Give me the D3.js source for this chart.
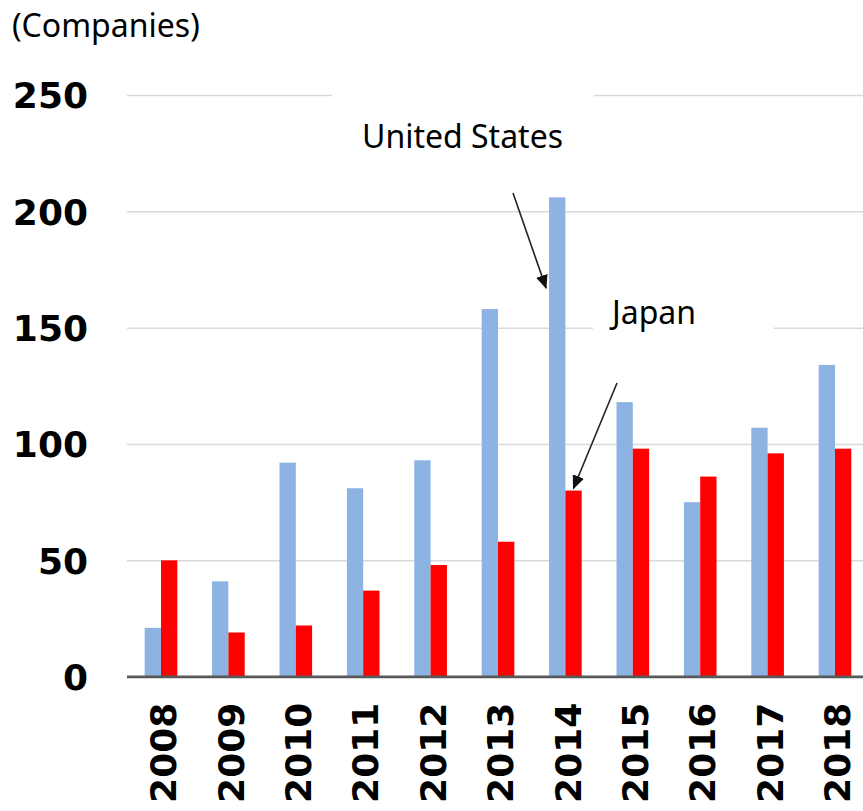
<!DOCTYPE html>
<html lang="en">
<head>
    <meta charset="utf-8">
    <title>Companies: United States vs Japan</title>
    <style>
        body {
            margin: 0;
            background: #fff;
        }

        .note {
            font-family: "Noto Sans", "Open Sans", sans-serif;
            font-size: 32px;
            fill: #000;
        }

        .tick text {
            font-family: "DejaVu Sans", Verdana, sans-serif;
            font-weight: bold;
            font-size: 36px;
            fill: #000;
        }
    </style>
</head>
<body>
    <div id="chart"></div>

    <script src="https://d3js.org/d3.v7.min.js"></script>
    <script>
        // data
        const years = ["2008", "2009", "2010", "2011", "2012", "2013", "2014", "2015", "2016", "2017", "2018"];
        const usValues = [21, 41, 92, 81, 93, 158, 206, 118, 75, 107, 134];
        const japanValues = [50, 19, 22, 37, 48, 58, 80, 98, 86, 96, 98];
        const yTicks = [0, 50, 100, 150, 200, 250];
        const seriesNames = ["United States", "Japan"];
        const seriesColors = ["#8db3e2", "#ff0000"];

        const width = 863, height = 811;

        const svg = d3.select("#chart")
            .append("svg")
            .attr("width", width)
            .attr("height", height);

        const x = d3.scaleBand()
            .domain(years)
            .range([127.3, 868.7])
            .paddingInner(0.516)
            .paddingOuter(0.258);

        const xSub = d3.scaleBand()
            .domain(seriesNames)
            .range([0, x.bandwidth()]);

        const y = d3.scaleLinear()
            .domain([0, 250])
            .range([676.7, 95]);

        // gridlines + y labels
        const yAxis = svg.append("g")
            .attr("transform", "translate(127,0)")
            .call(d3.axisLeft(y)
                .tickValues(yTicks)
                .tickSize(-(width - 127))
                .tickPadding(39));
        yAxis.select(".domain").remove();
        yAxis.selectAll(".tick line")
            .attr("stroke", d => d === 0 ? "#595959" : "#d9d9d9")
            .attr("stroke-width", d => d === 0 ? 2.2 : 1.5);
        yAxis.selectAll(".tick text")
            .attr("dy", "0.36em");

        // white boxes behind the labels (they hide the gridlines)
        svg.append("rect")
            .attr("x", 332).attr("y", 60)
            .attr("width", 262).attr("height", 135)
            .attr("fill", "#fff");
        svg.append("rect")
            .attr("x", 593).attr("y", 288)
            .attr("width", 181).attr("height", 50)
            .attr("fill", "#fff");

        // bars
        const rows = years.map((yr, i) => ({ year: yr, values: [usValues[i], japanValues[i]] }));

        svg.append("g")
            .selectAll("g")
            .data(rows)
            .join("g")
            .attr("transform", d => `translate(${x(d.year)},0)`)
            .selectAll("rect")
            .data(d => d.values.map((v, j) => ({ name: seriesNames[j], value: v, color: seriesColors[j] })))
            .join("rect")
            .attr("x", d => xSub(d.name))
            .attr("y", d => y(d.value))
            .attr("width", xSub.bandwidth())
            .attr("height", d => y(0) - y(d.value))
            .attr("fill", d => d.color);

        // baseline drawn on top of bars
        svg.append("line")
            .attr("x1", 127).attr("x2", width)
            .attr("y1", y(0)).attr("y2", y(0))
            .attr("stroke", "#595959")
            .attr("stroke-width", 2.2);

        // x labels, rotated
        const xAxis = svg.append("g")
            .attr("transform", `translate(0,${y(0)})`)
            .call(d3.axisBottom(x).tickSize(0));
        xAxis.select(".domain").remove();
        xAxis.selectAll(".tick text")
            .attr("transform", "rotate(-90)")
            .attr("x", -26)
            .attr("y", 0)
            .attr("dy", "0.42em")
            .attr("text-anchor", "end");

        // unit label
        svg.append("text")
            .attr("class", "note")
            .attr("x", 12)
            .attr("y", 37)
            .text("(Companies)");

        // annotations with arrows
        svg.append("defs").append("marker")
            .attr("id", "head")
            .attr("markerUnits", "userSpaceOnUse")
            .attr("viewBox", "0 0 14 12")
            .attr("refX", 13)
            .attr("refY", 6)
            .attr("markerWidth", 14)
            .attr("markerHeight", 12)
            .attr("orient", "auto")
            .append("path")
            .attr("d", "M0,0L14,6L0,12Z")
            .attr("fill", "#111");

        const notes = [
            { text: "United States", tx: 362, ty: 148, x1: 513, y1: 193,
              x2: x("2014") + xSub("United States") - 3, y2: y(167) },
            { text: "Japan", tx: 612, ty: 324, x1: 617, y1: 383,
              x2: x("2014") + xSub("Japan") + 8, y2: y(80) - 2 }
        ];

        notes.forEach(n => {
            svg.append("text")
                .attr("class", "note")
                .attr("x", n.tx)
                .attr("y", n.ty)
                .text(n.text);
            svg.append("line")
                .attr("x1", n.x1).attr("y1", n.y1)
                .attr("x2", n.x2).attr("y2", n.y2)
                .attr("stroke", "#222")
                .attr("stroke-width", 1.6)
                .attr("marker-end", "url(#head)");
        });
    </script>
</body>
</html>
